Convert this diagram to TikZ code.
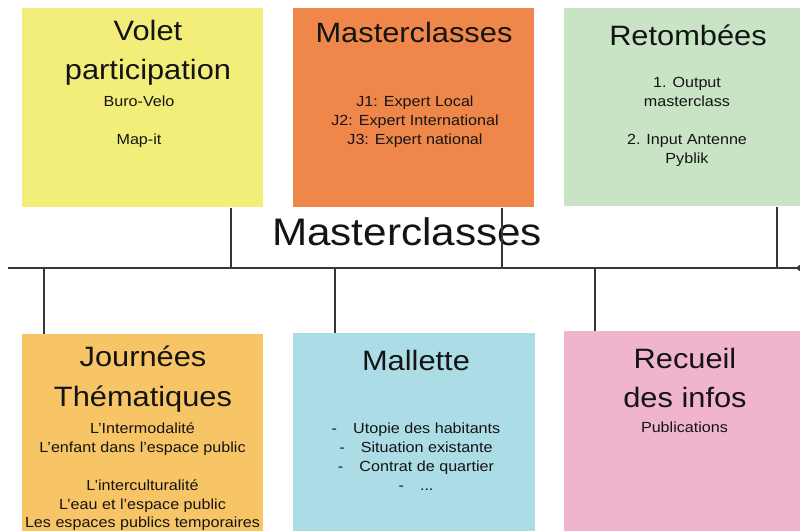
\documentclass[tikz,border=0pt]{standalone}
\usepackage{fontspec}
\setmainfont{Liberation Sans}[FakeStretch=1.1]
\definecolor{cyel}{RGB}{243,237,122}
\definecolor{corg}{RGB}{240,135,74}
\definecolor{cgrn}{RGB}{201,228,197}
\definecolor{cgold}{RGB}{247,197,102}
\definecolor{cblu}{RGB}{172,220,230}
\definecolor{cpnk}{RGB}{240,180,206}
\definecolor{txt}{RGB}{20,20,20}
\definecolor{lin}{RGB}{55,55,55}
\begin{document}
\begin{tikzpicture}[x=0.75pt,y=-0.75pt,
  box/.style={draw=none, rectangle, anchor=north west, inner sep=0pt},
  ttl/.style={align=center, inner sep=0pt, text=txt, font=\fontsize{21}{29.5}\selectfont},
  bdy/.style={align=center, inner sep=0pt, text=txt, font=\fontsize{11}{14.25}\selectfont},
  conn/.style={draw=lin, line width=1.1pt}]
\useasboundingbox (0,0) rectangle (800,531);
\fill[white] (0,0) rectangle (800,531);
% boxes
\node[box, fill=cyel, minimum width=180.75pt, minimum height=149.25pt] (volet) at (22,8) {};
\node[box, fill=corg, minimum width=180.75pt, minimum height=149.25pt] (master) at (293,8) {};
\node[box, fill=cgrn, minimum width=179pt, minimum height=148.5pt] (retomb) at (564,8) {};
\node[box, fill=cgold, minimum width=180.75pt, minimum height=150pt] (journ) at (22,334) {};
\node[box, fill=cblu, minimum width=181.5pt, minimum height=150pt] (mall) at (293,333) {};
\node[box, fill=cpnk, minimum width=179pt, minimum height=152pt] (recueil) at (564,331) {};
% texts
\node[ttl] (voletT) at (148,53) {Volet\\participation};
\node[bdy] (voletB) at (139,122) {Buro-Velo\\[14.25pt]Map-it};
\node[ttl] (masterT) at (414,32) {Masterclasses};
\node[bdy] (masterB) at (415,122) {J1: Expert Local\\J2: Expert International\\J3: Expert national};
\node[ttl] (retombT) at (688,35) {Retombées};
\node[bdy] (retombB) at (687,122) {1. Output\\masterclass\\[14.25pt]2. Input Antenne\\Pyblik};
\node[ttl] (journT) at (143,379) {Journées\\Thématiques};
\node[bdy, font=\fontsize{11}{14.1}\selectfont] (journB) at (142.5,477) {L’Intermodalité\\L’enfant dans l’espace public\\[14.1pt]L’interculturalité\\L’eau et l’espace public\\Les espaces publics temporaires};
\node[ttl] (mallT) at (416,360) {Mallette};
\node[bdy] (mallB) at (416,457) {-\hspace{1.1em}Utopie des habitants\\-\hspace{1.1em}Situation existante\\-\hspace{1.1em}Contrat de quartier\\-\hspace{1.1em}...};
\node[ttl] (recueilT) at (685,378) {Recueil\\des infos};
\node[bdy] (recueilB) at (684.5,427) {Publications};
\node[text=txt, inner sep=0pt, font=\fontsize{28.8}{30}\selectfont] (axlabel) at (407,231.5) {Masterclasses};
% axis
\coordinate (axL) at (8,268);
\coordinate (axR) at (800,268);
\coordinate (t1) at (231,268);
\coordinate (t2) at (502,268);
\coordinate (t3) at (777,268);
\coordinate (b1) at (44,268);
\coordinate (b2) at (335,268);
\coordinate (b3) at (595,268);
\draw[conn] (axL) -- (axR);
\fill[lin] (axR) circle (3);
\draw[conn] (volet.south -| t1) -- (t1);
\draw[conn] (master.south -| t2) -- (t2);
\draw[conn] (retomb.south -| t3) -- (t3);
\draw[conn] (b1) -- (b1 |- journ.north);
\draw[conn] (b2) -- (b2 |- mall.north);
\draw[conn] (b3) -- (b3 |- recueil.north);
\end{tikzpicture}
\end{document}
